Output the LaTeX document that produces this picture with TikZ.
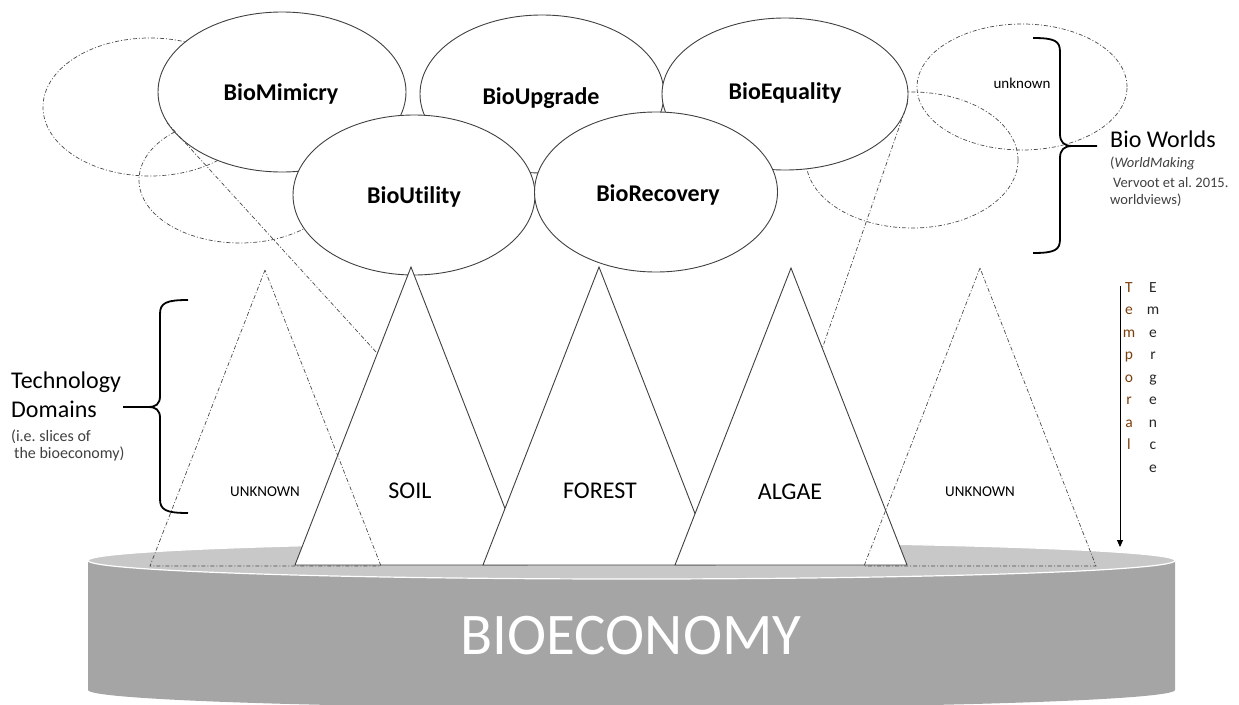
\documentclass[tikz,border=0pt]{standalone}
\usepackage{fontspec}
\setmainfont{Carlito}[Ligatures=NoCommon]
\usetikzlibrary{arrows.meta,calc,shapes.geometric}
\pgfdeclarelayer{cyl}
\pgfdeclarelayer{bg}
\pgfsetlayers{cyl,bg,main}
\definecolor{cyltop}{HTML}{C8C8C8}
\definecolor{cylbody}{HTML}{A5A5A5}
\definecolor{outl}{HTML}{404040}
\definecolor{dashgray}{HTML}{4A4A4A}
\definecolor{temporalc}{HTML}{7A3E0C}
\definecolor{emergc}{HTML}{262626}
\definecolor{subtext}{HTML}{404040}
\frenchspacing
\begin{document}
\begin{tikzpicture}[x=1pt,y=-1pt,
  world/.style={ellipse, draw=outl, fill=white, line width=0.9pt, inner sep=0pt},
  wlabel/.style={font=\fontsize{24}{28}\selectfont\bfseries, inner sep=0pt, anchor=base},
  ghost/.style={draw=dashgray, line width=0.7pt, dash pattern=on 4pt off 2pt on 1pt off 2pt},
  domainbox/.style={draw=outl, fill=white, line width=0.9pt},
  dlabel/.style={font=\fontsize{24}{28}\selectfont, inner sep=0pt},
  ulabel/.style={font=\fontsize{15}{18}\selectfont, inner sep=0pt},
  bigtext/.style={font=\fontsize{24}{28}\selectfont, inner sep=0pt},
  smalltext/.style={font=\fontsize{16}{18}\selectfont, inner sep=0pt, text=subtext},
  reftext/.style={font=\fontsize{14.5}{17}\selectfont, inner sep=0pt, text=subtext},
  bracepath/.style={draw=black, line width=1.8pt},
  stackletters/.style={font=\fontsize{15.5}{17}\selectfont, inner sep=0pt}
]
\useasboundingbox (0,0) rectangle (1239,704);

% ---------- coordinates of triangles ----------
\coordinate (soilA) at (411,267);   \coordinate (soilL) at (295,565);   \coordinate (soilR) at (527,565);
\coordinate (forestA) at (599,267); \coordinate (forestL) at (483,565); \coordinate (forestR) at (715,565);
\coordinate (algaeA) at (791,268);  \coordinate (algaeL) at (675,565);  \coordinate (algaeR) at (907,565);
\coordinate (unkLA) at (265,270);   \coordinate (unkLL) at (150,566);   \coordinate (unkLR) at (381,566);
\coordinate (unkRA) at (980,268);   \coordinate (unkRL) at (864,566);   \coordinate (unkRR) at (1096,566);

% ---------- bioeconomy cylinder ----------
\begin{pgfonlayer}{cyl}
  \fill[cylbody] (88,560.5) -- (88,690) arc[start angle=180, end angle=360, x radius=543.5pt, y radius=18pt]
        -- (1175,560.5) -- cycle;
  \filldraw[fill=cyltop, draw=white, line width=1.2pt] (631.5,560.5) ellipse [x radius=543.5pt, y radius=18.5pt];
  \node[font=\fontsize{59}{64}\selectfont, text=white, inner sep=0pt] (bioeco) at (631,636) {BIOECONOMY};
\end{pgfonlayer}

% ---------- bio worlds ----------
\node[world, minimum width=244pt, minimum height=158pt] (upg) at (542,94) {};
\node[world, minimum width=246pt, minimum height=152pt] (equ) at (785,94) {};
\node[world, minimum width=248pt, minimum height=160pt] (mim) at (282,92) {};
\node[world, minimum width=242pt, minimum height=160pt] (uti) at (414,195) {};
\node[world, minimum width=243pt, minimum height=160pt] (rec) at (656,192) {};
\node[wlabel] (mimt) at (281,100) {BioMimicry};
\node[wlabel] (upgt) at (541,104) {BioUpgrade};
\node[wlabel] (equt) at (785,99) {BioEquality};
\node[wlabel] (utit) at (414,203) {BioUtility};
\node[wlabel] (rect) at (658,201) {BioRecovery};

% ---------- unknown worlds ----------
\begin{pgfonlayer}{bg}
  \draw[ghost] (150,107) ellipse [x radius=107pt, y radius=69pt];
  \draw[ghost] (240,180) ellipse [x radius=101pt, y radius=63pt];
  \draw[ghost] (1022,87) ellipse [x radius=105pt, y radius=63pt];
  \draw[ghost] (912,160) ellipse [x radius=106pt, y radius=68pt];
\end{pgfonlayer}
\node[ulabel] (unkw) at (1022,83) {unknown};

% links from worlds to domains
\draw[ghost] (mim.195) -- ($(soilA)!0.29!(soilL)$);
\draw[ghost] (equ.356) -- ($(algaeA)!0.27!(algaeR)$);

% ---------- technology domains ----------
\filldraw[domainbox] (soilA) -- (soilL) -- (soilR) -- cycle;
\filldraw[domainbox] (forestA) -- (forestL) -- (forestR) -- cycle;
\filldraw[domainbox] (algaeA) -- (algaeL) -- (algaeR) -- cycle;
\draw[ghost] (unkLA) -- (unkLL) -- (unkLR) -- cycle;
\draw[ghost] (unkRA) -- (unkRL) -- (unkRR) -- cycle;
\node[dlabel] (soilt) at (410,491) {SOIL};
\node[dlabel] (forestt) at (600,491) {FOREST};
\node[dlabel] (algaet) at (790,492) {ALGAE};
\node[ulabel] (unkLt) at (265,492) {UNKNOWN};
\node[ulabel] (unkRt) at (980,492) {UNKNOWN};

% ---------- left brace and text ----------
\coordinate (lbtip) at (123,407);
\draw[bracepath] (188,300) .. controls (166,300) and (160,303) .. (160,314) -- (160,396)
   .. controls (160,404) and (156,407) .. (148,407) -- (lbtip);
\draw[bracepath] (188,513) .. controls (166,513) and (160,510) .. (160,499) -- (160,418)
   .. controls (160,410) and (156,407) .. (148,407);
\node[bigtext, anchor=base west] (tech1) at (11,388) {Technology};
\node[bigtext, anchor=base west] (tech2) at (11,417) {Domains};
\node[smalltext, anchor=base west] (tech3) at (11,441) {(i.e. slices of};
\node[smalltext, anchor=base west] (tech4) at (11,458) {\hspace{3pt}the bioeconomy)};

% ---------- right brace and text ----------
\coordinate (rbtip) at (1097,146);
\draw[bracepath] (1033,38) .. controls (1055,38) and (1060,41) .. (1060,52) -- (1060,134)
   .. controls (1060,142) and (1064,146) .. (1072,146) -- (rbtip);
\draw[bracepath] (1033,253) .. controls (1055,253) and (1060,250) .. (1060,239) -- (1060,158)
   .. controls (1060,150) and (1064,146) .. (1072,146);
\node[bigtext, anchor=base west] (bw1) at (1110,147) {Bio Worlds};
\node[reftext, anchor=base west] (bw2) at (1110,167) {(\textit{WorldMaking}};
\node[reftext, anchor=base west] (bw3) at (1110,187) {\hspace{3pt}Vervoot et al. 2015.};
\node[reftext, anchor=base west] (bw4) at (1110,204) {worldviews)};

% ---------- temporal emergence ----------
\coordinate (arrtop) at (1120,286);
\coordinate (arrbot) at (1120,547);
\draw[line width=0.9pt, -{Triangle[length=7pt,width=6pt]}] (arrtop) -- (arrbot);
\foreach \ch [count=\i] in {T,e,m,p,o,r,a,l}
  \node[stackletters, text=temporalc, anchor=base] (tmp\i) at (1129,{292+22.5*(\i-1)}) {\ch};
\foreach \ch [count=\i] in {E,m,e,r,g,e,n,c,e}
  \node[stackletters, text=emergc, anchor=base] (emg\i) at (1153,{292+22.5*(\i-1)}) {\ch};
\end{tikzpicture}
\end{document}
